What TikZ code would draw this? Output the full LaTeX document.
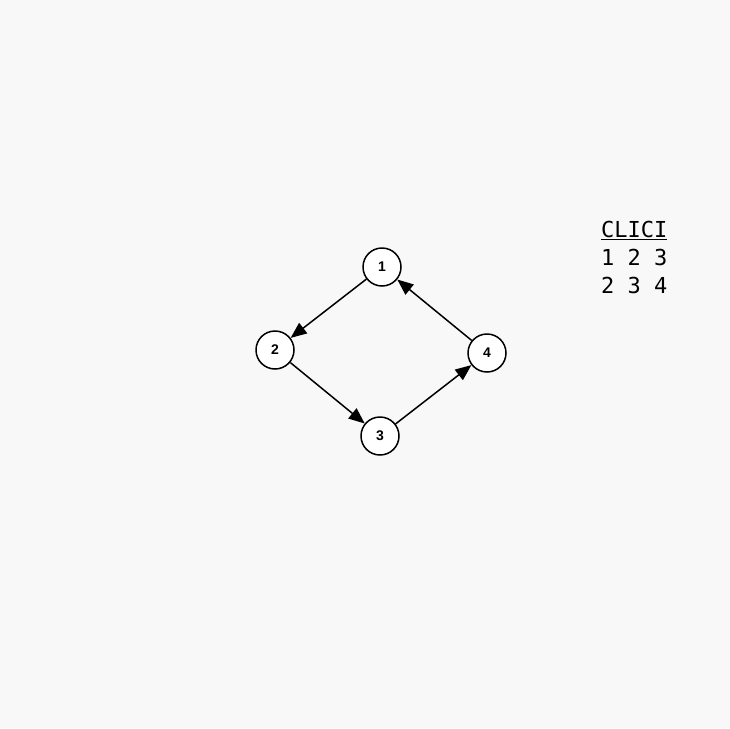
\documentclass[tikz,border=0pt]{standalone}
\usepackage{fontspec}
\setmainfont{Liberation Sans}
\setmonofont{DejaVu Sans Mono}
\usepackage{xcolor}
\usetikzlibrary{arrows.meta}
\definecolor{paper}{HTML}{F8F8F8}
\definecolor{ink}{HTML}{000000}

\begin{document}
\begin{tikzpicture}[x=1pt,y=-1pt,
  vert/.style={circle,draw=ink,line width=1.5pt,fill=white,minimum size=38pt,
               inner sep=0pt,font=\fontsize{14}{15}\selectfont\bfseries},
  edge/.style={draw=ink,line width=1.5pt,-{Triangle[length=16pt,width=13pt]}},
]
  \fill[paper] (0,0) rectangle (730,728);
  \useasboundingbox (0,0) rectangle (730,728);
  \node[vert] (v1) at (382,267) {1};
  \node[vert] (v2) at (275,350) {2};
  \node[vert] (v3) at (380,436) {3};
  \node[vert] (v4) at (487,353) {4};
  \draw[edge] (v1) -- (v2);
  \draw[edge] (v2) -- (v3);
  \draw[edge] (v3) -- (v4);
  \draw[edge] (v4) -- (v1);
  % clique list
  \node[anchor=west,inner sep=0pt,font=\ttfamily\fontsize{22}{28}\selectfont,align=left]
    (clici) at (601,257) {\underline{CLICI}\\1 2 3\\2 3 4};
\end{tikzpicture}
\end{document}
